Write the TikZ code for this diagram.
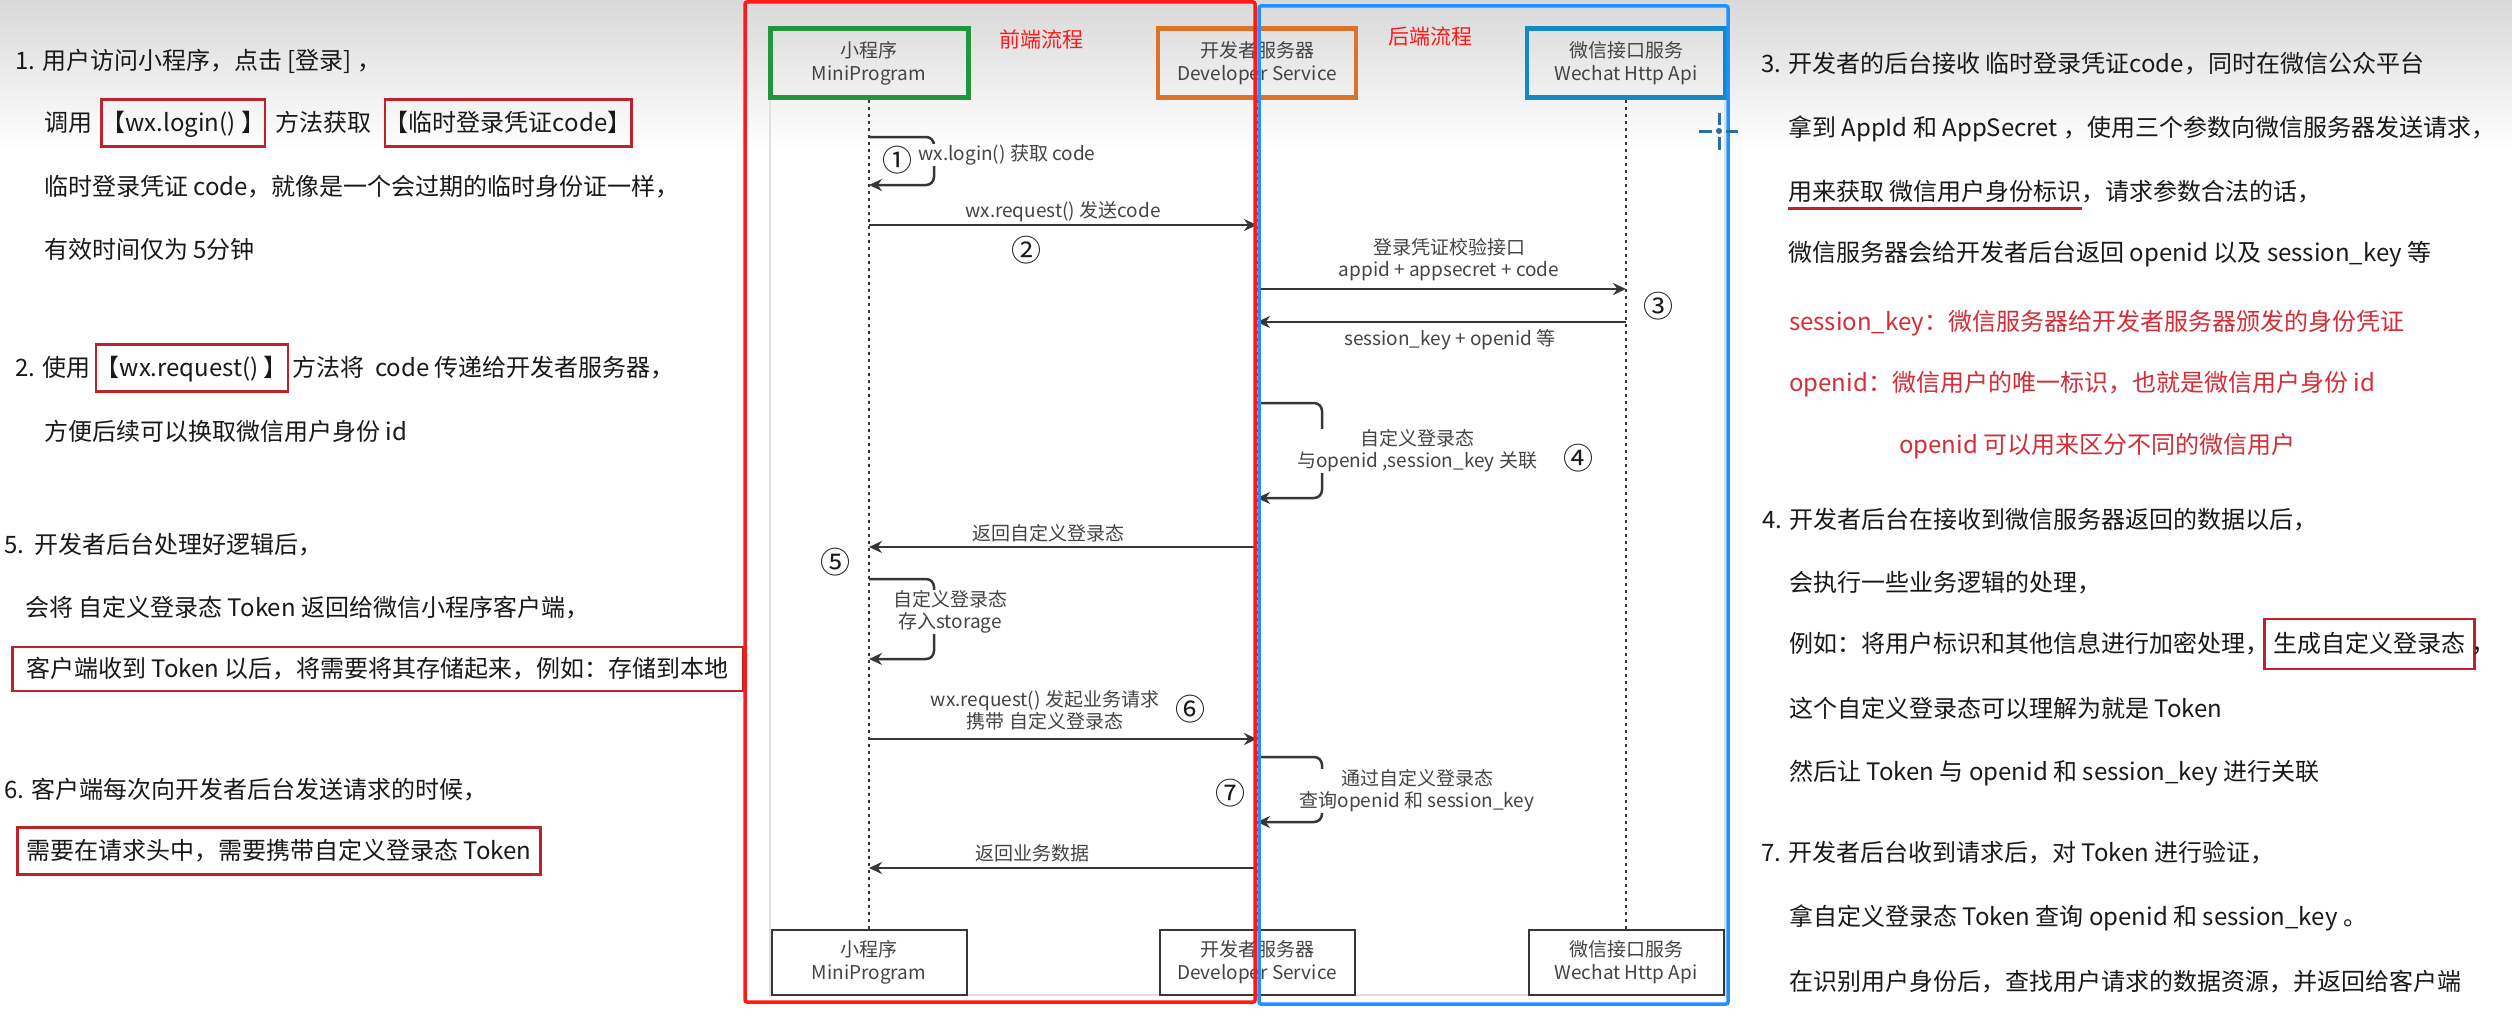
\documentclass[tikz,border=0pt]{standalone}
\usepackage{fontspec}
\setmainfont{Noto Sans CJK SC}
\usetikzlibrary{arrows.meta,positioning}

\definecolor{inkc}{RGB}{25,25,25}
\definecolor{diagc}{RGB}{68,68,68}
\definecolor{linec}{RGB}{55,55,55}
\definecolor{hlred}{RGB}{190,35,45}
\definecolor{notered}{RGB}{212,45,55}
\definecolor{frontred}{RGB}{255,25,25}
\definecolor{backblue}{RGB}{30,144,255}
\definecolor{mpgreen}{RGB}{34,150,60}
\definecolor{dsorange}{RGB}{220,115,40}
\definecolor{wxblue}{RGB}{20,135,200}
\definecolor{cursorc}{RGB}{40,110,160}

\tikzset{
  txt/.style={anchor=west, inner sep=0pt, text=inkc, text height=21pt, text depth=5pt,
    font=\fontsize{24}{28}\selectfont},
  redtxt/.style={txt, text=notered},
  hlbox/.style={txt, draw=hlred, line width=2.5pt, minimum height=47pt},
  actor/.style={draw, line width=4.5pt, minimum width=198pt, minimum height=69pt, align=center,
    text=diagc, font=\fontsize{19}{23}\selectfont},
  actorb/.style={draw=linec, line width=2pt, fill=white, minimum width=195pt, minimum height=65pt,
    align=center, text=diagc, font=\fontsize{19}{23}\selectfont},
  lifeline/.style={draw=linec, line width=2.5pt, dash pattern=on 3pt off 4pt},
  msg/.style={draw=linec, line width=2.5pt, -{Stealth[length=13pt,width=12pt]}},
  lbl/.style={text=diagc, font=\fontsize{19}{22}\selectfont, align=center, inner sep=1pt},
  loopl/.style={lbl, fill=white},
  stepnum/.style={text=inkc, font=\fontsize{30}{30}\selectfont, inner sep=0pt},
  flowtitle/.style={text=frontred, font=\fontsize{21}{21}\selectfont, inner sep=0pt},
}

\begin{document}
\begin{tikzpicture}[x=1pt, y=-1pt]
  \useasboundingbox (0,0) rectangle (2512,1025);
  % background
  \fill[white] (0,0) rectangle (2512,1025);
  \shade[top color=gray!30, bottom color=white] (0,0) rectangle (2512,150);

  % left notes
  \node[txt] (l1) at (15,62) {1. 用户访问小程序，点击 [登录] ，};
  \node[txt] (l2a) at (44,123) {调用};
  \node[hlbox, right=8pt of l2a] (l2b) {【wx.login() 】};
  \node[txt, right=9pt of l2b] (l2c) {方法获取};
  \node[hlbox, right=12pt of l2c] (l2d) {【临时登录凭证code】};
  \node[txt] (l3) at (44,187) {临时登录凭证 code，就像是一个会过期的临时身份证一样，};
  \node[txt] (l4) at (44,250) {有效时间仅为 5分钟};
  \node[txt] (l5a) at (15,368) {2. 使用};
  \node[hlbox, right=4pt of l5a] (l5b) {【wx.request() 】};
  \node[txt, right=3pt of l5b] (l5c) {方法将\ \ code 传递给开发者服务器，};
  \node[txt] (l6) at (44,432) {方便后续可以换取微信用户身份 id};
  \node[txt] (l7) at (4,545) {5.\ \ 开发者后台处理好逻辑后，};
  \node[txt] (l8) at (25,608) {会将 自定义登录态 Token 返回给微信小程序客户端，};
  \node[hlbox, inner xsep=14pt, minimum height=44pt] (l9) at (11,669) {客户端收到 Token 以后，将需要将其存储起来，例如：存储到本地};
  \node[txt] (l10) at (4,790) {6. 客户端每次向开发者后台发送请求的时候，};
  \node[hlbox, inner xsep=9pt] (l11) at (16,851) {需要在请求头中，需要携带自定义登录态 Token};

  % right notes
  \node[txt] (r1) at (1761,65) {3. 开发者的后台接收 临时登录凭证code，同时在微信公众平台};
  \node[txt] (r2) at (1788,128) {拿到 AppId 和 AppSecret ，使用三个参数向微信服务器发送请求，};
  \node[txt] (r3a) at (1788,192) {用来获取 微信用户身份标识};
  \node[txt, right=0pt of r3a] (r3b) {，请求参数合法的话，};
  \draw[hlred, line width=3pt] ([yshift=-3pt]r3a.south west) -- ([yshift=-3pt]r3a.south east);
  \node[txt] (r4) at (1788,253) {微信服务器会给开发者后台返回 openid 以及 session\_key 等};
  \node[redtxt] (r5) at (1789,322) {session\_key：微信服务器给开发者服务器颁发的身份凭证};
  \node[redtxt] (r6) at (1789,383) {openid：微信用户的唯一标识，也就是微信用户身份 id};
  \node[redtxt] (r7) at (1899,445) {openid 可以用来区分不同的微信用户};
  \node[txt] (r8) at (1762,520) {4. 开发者后台在接收到微信服务器返回的数据以后，};
  \node[txt] (r9) at (1789,583) {会执行一些业务逻辑的处理，};
  \node[txt] (r10a) at (1789,644) {例如：将用户标识和其他信息进行加密处理，};
  \node[hlbox, inner xsep=9pt, minimum height=50pt, right=-6pt of r10a] (r10b) {生成自定义登录态};
  \node[txt, right=-5pt of r10b] (r10c) {，};
  \node[txt] (r11) at (1789,709) {这个自定义登录态可以理解为就是 Token};
  \node[txt] (r12) at (1789,772) {然后让 Token 与 openid 和 session\_key 进行关联};
  \node[txt] (r13) at (1761,853) {7. 开发者后台收到请求后，对 Token 进行验证，};
  \node[txt] (r14) at (1789,917) {拿自定义登录态 Token 查询 openid 和 session\_key 。};
  \node[txt] (r15) at (1789,982) {在识别用户身份后，查找用户请求的数据资源，并返回给客户端};

  % sequence diagram
  \draw[gray!25, line width=1.5pt] (770,30) rectangle (1725,995);
  \node[actor, draw=mpgreen, line width=5pt] (mpt) at (869,63) {小程序\\MiniProgram};
  \node[actor, draw=dsorange] (dst) at (1257,63) {开发者服务器\\Developer Service};
  \node[actor, draw=wxblue] (wxt) at (1626,63) {微信接口服务\\Wechat Http Api};
  \node[actorb] (mpb) at (869,962) {小程序\\MiniProgram};
  \node[actorb] (dsb) at (1257,962) {开发者服务器\\Developer Service};
  \node[actorb] (wxb) at (1626,962) {微信接口服务\\Wechat Http Api};
  \draw[lifeline] (mpt) -- (mpb);
  \draw[lifeline] (dst) -- (dsb);
  \draw[lifeline] (wxt) -- (wxb);

  \draw[msg, rounded corners=8pt] (mpt |- 0,137) -- ++(65,0) -- ++(0,48) -- (mpt |- 0,185);
  \node[loopl] (t1) at (1007,155) {wx.login() 获取 code};
  \node[stepnum] (n1) at (897,160) {①};

  \draw[msg] (mpt |- 0,225) -- node[lbl, above=1pt] (t2) {wx.request() 发送code} (dst |- 0,225);
  \node[stepnum] (n2) at (1026,250) {②};

  \draw[msg] (dst |- 0,289) -- (wxt |- 0,289);
  \node[lbl] (t3) at (1449,260) {登录凭证校验接口\\appid + appsecret + code};
  \draw[msg] (wxt |- 0,322) -- (dst |- 0,322);
  \node[lbl] (t3b) at (1450,340) {session\_key + openid 等};
  \node[stepnum] (n3) at (1658,306) {③};

  \draw[msg, rounded corners=8pt] (dst |- 0,403) -- ++(65,0) -- ++(0,95) -- (dst |- 0,498);
  \node[loopl] (t4) at (1417,451) {自定义登录态\\与openid ,session\_key 关联};
  \node[stepnum] (n4) at (1578,458) {④};

  \draw[msg] (dst |- 0,547) -- (mpt |- 0,547);
  \node[lbl] (t5) at (1048,533) {返回自定义登录态};
  \node[stepnum] (n5) at (835,562) {⑤};

  \draw[msg, rounded corners=8pt] (mpt |- 0,579) -- ++(65,0) -- ++(0,80) -- (mpt |- 0,659);
  \node[loopl] (t5b) at (950,612) {自定义登录态\\存入storage};

  \draw[msg] (mpt |- 0,739) -- (dst |- 0,739);
  \node[lbl] (t6) at (1045,710) {wx.request() 发起业务请求\\携带 自定义登录态};
  \node[stepnum] (n6) at (1190,709) {⑥};

  \draw[msg, rounded corners=8pt] (dst |- 0,757) -- ++(65,0) -- ++(0,65) -- (dst |- 0,822);
  \node[loopl] (t7) at (1417,791) {通过自定义登录态\\查询openid 和 session\_key};
  \node[stepnum] (n7) at (1230,793) {⑦};

  \draw[msg] (dst |- 0,868) -- (mpt |- 0,868);
  \node[lbl] (t8) at (1032,853) {返回业务数据};

  % front / back frames
  \draw[frontred, line width=3.5pt, rounded corners=2pt] (745,2) rectangle (1255,1002);
  \draw[backblue, line width=3.5pt, rounded corners=2pt] (1259,6) rectangle (1728,1004);
  \node[flowtitle] (ft) at (1041,39) {前端流程};
  \node[flowtitle] (bt) at (1430,37) {后端流程};

  % cursor mark
  \draw[cursorc, line width=3pt] (1699,131) -- (1712,131) (1726,131) -- (1738,131)
    (1719,113) -- (1719,125) (1719,137) -- (1719,150);
  \fill[cursorc] (1719,131) circle (3pt);
\end{tikzpicture}
\end{document}
